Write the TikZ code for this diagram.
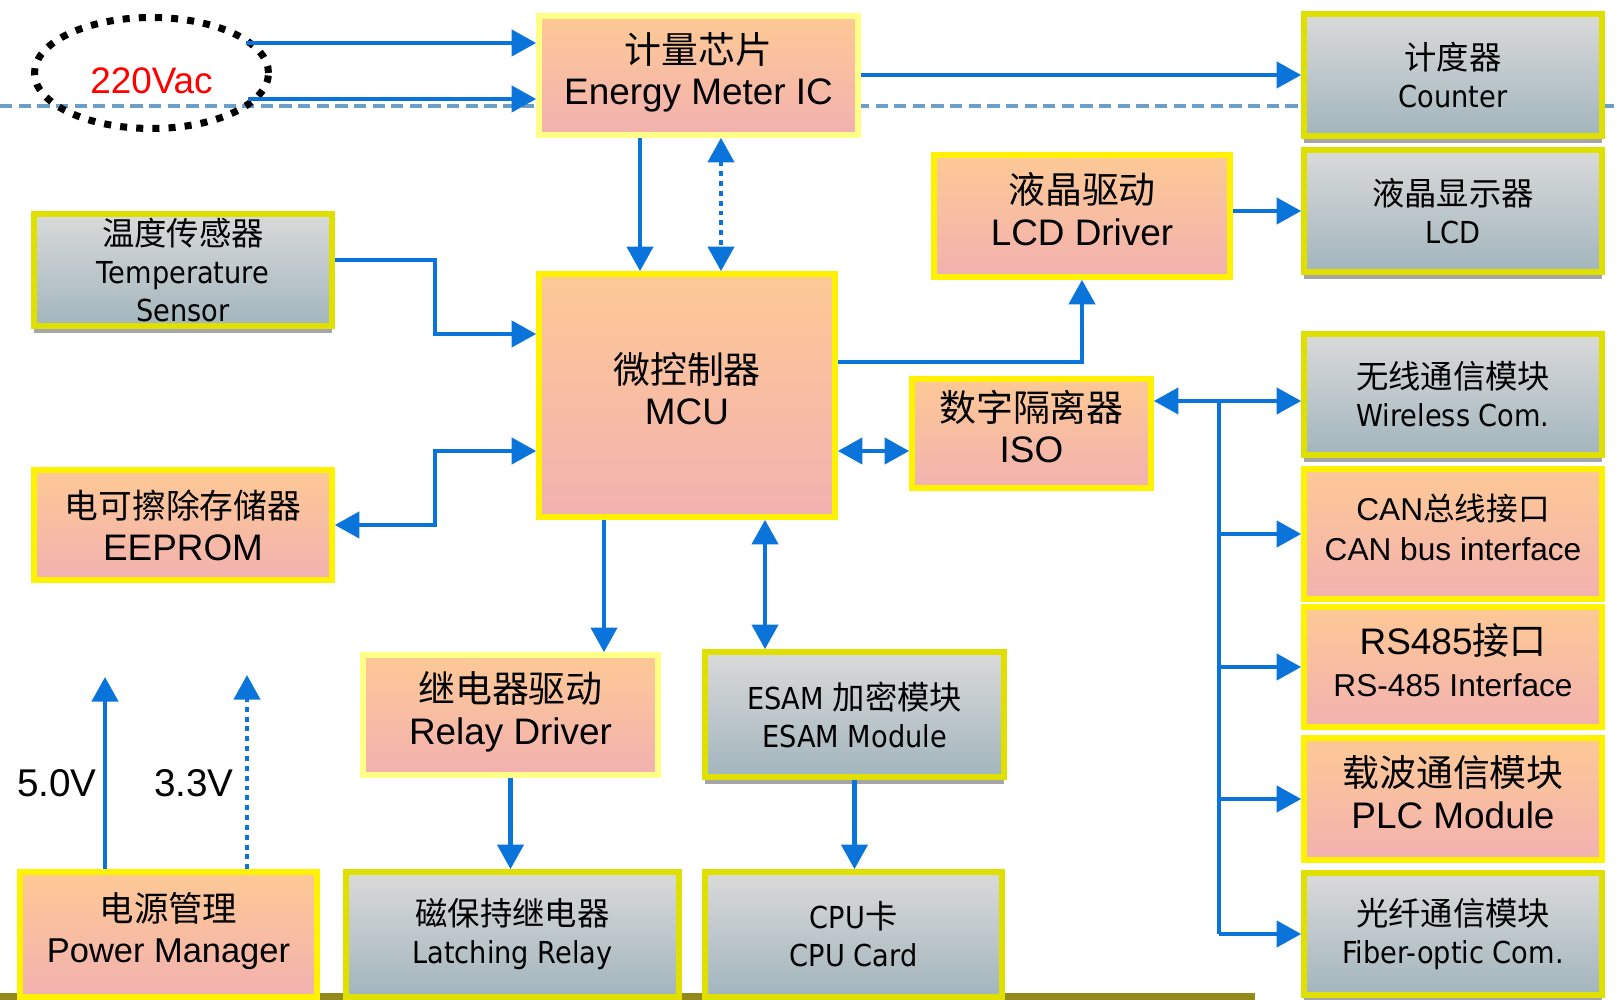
\documentclass[tikz,border=0pt]{standalone}
\usepackage{fontspec}
\setmainfont{Liberation Sans}
\newfontfamily\cjk{Noto Sans CJK SC}
\newfontfamily\narrow{DejaVu Sans}[FakeStretch=0.9]
\usetikzlibrary{arrows.meta,shapes.geometric,shadows}

\definecolor{flowblue}{HTML}{0A74DA}
\definecolor{dashblue}{HTML}{6C9FC8}
\definecolor{peach}{HTML}{FDC995}
\definecolor{rosy}{HTML}{F2B1B0}
\definecolor{greytop}{HTML}{DADADA}
\definecolor{greybot}{HTML}{A2B5BD}
\definecolor{olivebd}{HTML}{E0E000}
\definecolor{paleyellow}{HTML}{FFFF88}
\definecolor{barolive}{HTML}{948A1C}

\def\tipLen{7pt}
\def\tipWid{7.4pt}
\def\greyzh{\cjk\fontsize{9.2}{10.8}\selectfont}

\tikzset{
  pinkbox/.style={draw=yellow, line width=1.6pt, top color=peach, bottom color=rosy,
    align=center, inner sep=0pt, text depth=4pt, font=\fontsize{10.5}{11.8}\selectfont},
  graybox/.style={draw=olivebd, line width=1.6pt, top color=greytop, bottom color=greybot,
    align=center, inner sep=0pt, font=\fontsize{8.6}{10.8}\selectfont\narrow,
    drop shadow={shadow xshift=0pt, shadow yshift=-2pt, fill=black, opacity=.35}},
  link/.style={flowblue, line width=1.25pt},
  tip/.style={-{Triangle[length=\tipLen,width=\tipWid]}},
  tips/.style={{Triangle[length=\tipLen,width=\tipWid]}-{Triangle[length=\tipLen,width=\tipWid]}},
  dots/.style={dash pattern=on 1.4pt off 1.4pt},
  volt/.style={font=\fontsize{11}{13}\selectfont},
}

\begin{document}
\begin{tikzpicture}[x=1cm,y=-1cm]
      \useasboundingbox (0,0) rectangle (16.2,10);

      % background strips
      \fill[barolive] (0,9.93) rectangle (12.55,10);
      \coordinate (dashL) at (0,1.06);
      \coordinate (dashR) at (16.2,1.06);
      \draw[dashblue, line width=1.1pt, dash pattern=on 3.5pt off 1.8pt]
        (dashL) -- (dashR)
      ;

      \node[ellipse, draw=black, line width=2pt, dash pattern=on 2pt off 2.6pt,
        minimum width=2.34cm, minimum height=1.11cm, text=red, text height=11.5pt,
        font=\fontsize{10.5}{12.5}\selectfont] (ac) at (1.515,0.73) {220Vac};

      % blocks
      \node[pinkbox, draw=paleyellow, minimum width=3.19cm, minimum height=1.19cm]
        (em) at (6.985,0.755) {{\cjk 计量芯片}\\Energy Meter IC};
      \node[graybox, minimum width=2.98cm, minimum height=1.22cm]
        (counter) at (14.53,0.75) {{\greyzh 计度器}\\Counter};
      \node[graybox, minimum width=2.98cm, minimum height=1.22cm]
        (lcd) at (14.53,2.11) {{\greyzh 液晶显示器}\\LCD};
      \node[pinkbox, minimum width=2.96cm, minimum height=1.22cm]
        (lcddrv) at (10.82,2.16) {{\cjk 液晶驱动}\\LCD Driver};
      \node[graybox, minimum width=2.98cm, minimum height=1.12cm]
        (temp) at (1.83,2.70) {{\greyzh 温度传感器}\\Temperature\\Sensor};
      \node[pinkbox, minimum width=2.96cm, minimum height=2.43cm]
        (mcu) at (6.87,3.955) {{\cjk 微控制器}\\MCU};
      \node[pinkbox, minimum width=2.39cm, minimum height=1.09cm]
        (iso) at (10.315,4.335) {{\cjk 数字隔离器}\\ISO};
      \node[pinkbox, minimum width=2.98cm, minimum height=1.10cm, text depth=0pt]
        (eeprom) at (1.83,5.25) {{\cjk\fontsize{9.6}{11.8}\selectfont 电可擦除存储器}\\EEPROM};

      \node[graybox, minimum width=2.98cm, minimum height=1.21cm]
        (wireless) at (14.53,3.945) {{\greyzh 无线通信模块}\\Wireless Com.};
      \node[pinkbox, minimum width=2.98cm, minimum height=1.30cm, font=\fontsize{9}{11.3}\selectfont]
        (can) at (14.53,5.34) {CAN{\cjk 总线接口}\\CAN bus interface};
      \node[pinkbox, minimum width=2.98cm, minimum height=1.20cm]
        (rs485) at (14.53,6.67) {RS485{\cjk 接口}\\\fontsize{9}{11}\selectfont RS-485 Interface};
      \node[pinkbox, minimum width=2.98cm, minimum height=1.22cm]
        (plc) at (14.53,7.99) {{\cjk 载波通信模块}\\PLC Module};
      \node[graybox, minimum width=2.98cm, minimum height=1.22cm]
        (fiber) at (14.53,9.34) {{\greyzh 光纤通信模块}\\Fiber-optic Com.};

      \node[pinkbox, draw=paleyellow, minimum width=2.95cm, minimum height=1.20cm]
        (relaydrv) at (5.105,7.15) {{\cjk 继电器驱动}\\Relay Driver};
      \node[graybox, minimum width=2.99cm, minimum height=1.25cm]
        (esam) at (8.545,7.145) {ESAM {\greyzh 加密模块}\\ESAM Module};
      \node[pinkbox, minimum width=2.97cm, minimum height=1.25cm, font=\fontsize{9.8}{11.8}\selectfont]
        (power) at (1.685,9.345) {{\cjk 电源管理}\\Power Manager};
      \node[graybox, minimum width=3.33cm, minimum height=1.25cm]
        (latch) at (5.125,9.345) {{\greyzh 磁保持继电器}\\Latching Relay};
      \node[graybox, minimum width=2.97cm, minimum height=1.25cm]
        (cpu) at (8.535,9.345) {CPU{\greyzh 卡}\\CPU Card};

      % mains input
      \coordinate (acA) at (2.46,0.43);
      \coordinate (acB) at (2.48,0.99);
      \draw[link,tip] (acA) -- (acA -| em.west);
      \draw[link,tip] (acB) -- (acB -| em.west);

      \draw[link,tip] (em.east |- counter.west) -- (counter.west);
      \draw[link,tip]
        ([xshift=-5.85mm]em.south) -- ([xshift=-5.85mm]em.south |- mcu.north)
      ;
      \draw[link,tips,dots]
        ([xshift=2.25mm]em.south) -- ([xshift=2.25mm]em.south |- mcu.north)
      ;

      \draw[link,tip]
        ([yshift=1mm]temp.east) -- ++(1.0,0) |- ([yshift=6.15mm]mcu.west)
      ;
      \draw[link,tips]
        ([yshift=-5.55mm]mcu.west) -- ++(-1.01,0) |- (eeprom.east)
      ;
      \draw[link,tip] ([yshift=3.35mm]mcu.east) -| (lcddrv.south);
      \draw[link,tip] (lcddrv.east |- lcd.west) -- (lcd.west);
      \draw[link,tips]
        ([yshift=-1.75mm]iso.west -| mcu.east) -- ([yshift=-1.75mm]iso.west)
      ;

      % interface bus
      \coordinate (busTop) at (12.19,4.01);
      \draw[link,tip] (busTop) -- (busTop -| iso.east);
      \draw[link,tip] (busTop) -- (busTop -| wireless.west);
      \draw[link] (busTop) -- (busTop |- fiber.west);
      \foreach \blk in {can,rs485,plc,fiber}
        \draw[link,tip] (busTop |- \blk.west) -- (\blk.west);

      \draw[link,tip]
        ([xshift=9.35mm]relaydrv.north |- mcu.south) -- ([xshift=9.35mm]relaydrv.north)
      ;
      \draw[link,tips]
        ([xshift=-8.95mm]esam.north |- mcu.south) -- ([xshift=-8.95mm]esam.north)
      ;
      \draw[link,tip] (relaydrv.south) -- (relaydrv.south |- latch.north);
      \draw[link,tip] (esam.south) -- (esam.south |- cpu.north);

      % supply rails
      \coordinate (railA) at (1.05,6.77);
      \coordinate (railB) at (2.47,6.75);
      \draw[link,tip] (railA |- power.north) -- (railA);
      \draw[link,tip,dots] (railB |- power.north) -- (railB);
      \node[volt] (lblA) at (0.57,7.83) {5.0V};
      \node[volt] (lblB) at (1.94,7.83) {3.3V};
\end{tikzpicture}
\end{document}
